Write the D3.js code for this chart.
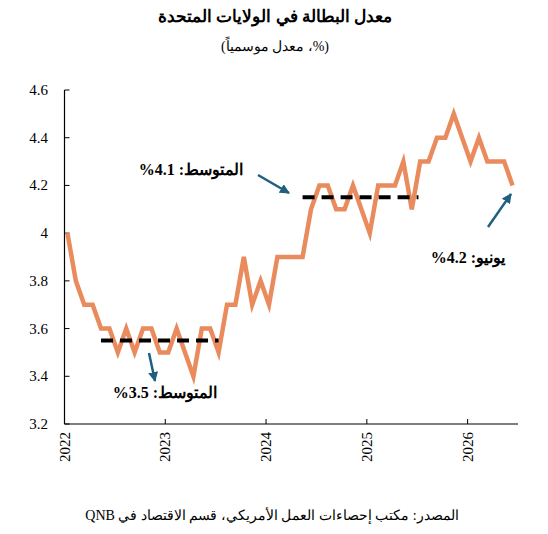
<!DOCTYPE html>
<html><head><meta charset="utf-8">
<script src="https://cdn.jsdelivr.net/npm/d3@7"></script>
<style>body{margin:0;background:#fff}svg{font-family:"Liberation Serif","Times New Roman",serif}</style>
</head><body><svg id="c" width="548" height="534"></svg>
<script>
const years = ["2022","2023","2024","2025","2026"];
const values = [4.0,3.8,3.7,3.7,3.6,3.6,3.5,3.6,3.5,3.6,3.6,3.5,
3.5,3.6,3.5,3.4,3.6,3.6,3.5,3.7,3.7,3.9,3.7,3.8,
3.7,3.9,3.9,3.9,3.9,4.1,4.2,4.2,4.1,4.1,4.2,4.1,
4.0,4.2,4.2,4.2,4.3,4.1,4.3,4.3,4.4,4.4,4.5,4.4,
4.3,4.4,4.3,4.3,4.3,4.2];
const yTicks = [3.2,3.4,3.6,3.8,4,4.2,4.4,4.6];
const averages = [{v:3.55,from:4,to:18,label:"المتوسط: 3.5%"},{v:4.15,from:28,to:41.8,label:"المتوسط: 4.1%"}];

const svg = d3.select("#c");
const x = d3.scaleLinear().domain([0,54]).range([64.5,518]);
const y = d3.scaleLinear().domain([3.2,4.6]).range([424,90]);
const xm = i => x(i+0.35);

svg.append("text").attr("x",275).attr("y",22).attr("text-anchor","middle").attr("font-weight","bold").attr("font-size",17).attr("direction","rtl").text("معدل البطالة في الولايات المتحدة");
svg.append("text").attr("x",275).attr("y",51).attr("text-anchor","middle").attr("font-size",14).attr("direction","rtl").text("(%، معدل موسمياً)");

const g = svg.append("g");
// axes
g.append("line").attr("x1",x(0)).attr("x2",x(0)).attr("y1",y(4.6)).attr("y2",y(3.2)).attr("stroke","#000").attr("stroke-width",1.2);
g.append("line").attr("x1",x(0)).attr("x2",x(54)).attr("y1",y(3.2)).attr("y2",y(3.2)).attr("stroke","#000").attr("stroke-width",1.2);
yTicks.forEach(t=>{
  g.append("line").attr("x1",x(0)).attr("x2",x(0)+5).attr("y1",y(t)).attr("y2",y(t)).attr("stroke","#000");
  g.append("text").attr("x",48).attr("y",y(t)+5).attr("text-anchor","end").attr("font-size",15).text(t===4?"4":t.toFixed(1));
});
years.forEach((yr,i)=>{
  const xx = x(i*12);
  if(i>0) g.append("line").attr("x1",xx).attr("x2",xx).attr("y1",y(3.2)).attr("y2",y(3.2)-5).attr("stroke","#000");
  g.append("text").attr("transform",`translate(${xx+5},${432}) rotate(-90)`).attr("text-anchor","end").attr("font-size",15).text(yr);
});

// line
g.append("path").datum(values).attr("fill","none").attr("stroke","#E98B5C").attr("stroke-width",4.5).attr("stroke-linejoin","miter")
  .attr("d",d3.line().x((d,i)=>xm(i)).y(d=>y(d)));

// averages
averages.forEach(a=>{
  g.append("line").attr("x1",xm(a.from)).attr("x2",xm(a.to)).attr("y1",y(a.v)).attr("y2",y(a.v)).attr("stroke","#000").attr("stroke-width",4).attr("stroke-dasharray","12,7");
});

// arrows
svg.append("defs").append("marker").attr("id","ah").attr("viewBox","0 0 10 10").attr("refX",9).attr("refY",5).attr("markerWidth",4).attr("markerHeight",4).attr("orient","auto")
  .append("path").attr("d","M0,0L10,5L0,10z").attr("fill","#1F5F7F");
[[258,175,289,193],[149,353,155,381],[488,227,511,194]].forEach(a=>{
  g.append("line").attr("x1",a[0]).attr("y1",a[1]).attr("x2",a[2]).attr("y2",a[3]).attr("stroke","#1F5F7F").attr("stroke-width",2.5).attr("marker-end","url(#ah)");
});

const labels = [[averages[1].label,191,175],[averages[0].label,165,398],["يونيو: 4.2%",468,263]];
labels.forEach(l=>{
  g.append("text").attr("x",l[1]).attr("y",l[2]).attr("text-anchor","middle").attr("direction","rtl").attr("font-weight","bold").attr("font-size",16).text(l[0]);
});

svg.append("text").attr("x",272).attr("y",520).attr("text-anchor","middle").attr("direction","rtl").attr("font-size",14).text("المصدر: مكتب إحصاءات العمل الأمريكي، قسم الاقتصاد في QNB");
</script></body></html>
